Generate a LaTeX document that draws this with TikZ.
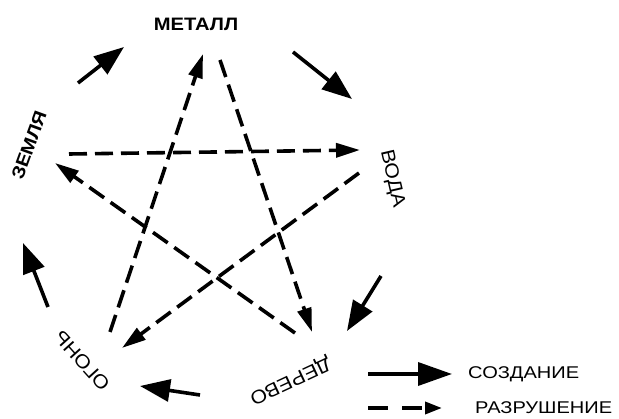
\documentclass[tikz,border=0pt]{standalone}
\usepackage{fontspec}
\setmainfont{Liberation Sans}
\newfontfamily\widefont[FakeStretch=1.12]{Liberation Sans}
\newfontfamily\legendfont[FakeStretch=1.18]{Liberation Sans}
\usetikzlibrary{arrows.meta}
\begin{document}
\begin{tikzpicture}[x=1pt,y=-1pt,
  lbl/.style={font=\widefont\fontsize{19}{19}\selectfont, inner sep=0pt},
  leg/.style={font=\legendfont\fontsize{17}{17}\selectfont, inner sep=0pt, anchor=west},
  create/.style={line width=3.6pt, -{Triangle[length=30pt,width=22pt]}},
  destroy/.style={line width=3.6pt, dash pattern=on 18pt off 8pt, -{Triangle[length=24pt,width=14pt]}}]
\useasboundingbox (0,0) rectangle (619,419);
% labels
\node[lbl, font=\widefont\bfseries\fontsize{18}{18}\selectfont] (metal) at (196,24) {МЕТАЛЛ};
\node[lbl, font=\widefont\bfseries\fontsize{18}{18}\selectfont, rotate=70] (earth) at (29,145) {ЗЕМЛЯ};
\node[lbl, rotate=-77] (water) at (392,179) {ВОДА};
\node[lbl, rotate=132] (fire) at (82,361) {ОГОНЬ};
\node[lbl, rotate=205] (wood) at (290,380) {ДЕРЕВО};
% creation cycle
\coordinate (c1s) at (78,83);   \coordinate (c1e) at (124,47);
\coordinate (c2s) at (293,52);  \coordinate (c2e) at (352,99);
\coordinate (c3s) at (381,276); \coordinate (c3e) at (347,331);
\coordinate (c4s) at (200,395); \coordinate (c4e) at (140,386);
\coordinate (c5s) at (48,307);  \coordinate (c5e) at (23,243);
\draw[create] (c1s) -- (c1e);
\draw[create] (c2s) -- (c2e);
\draw[create] (c3s) -- (c3e);
\draw[create] (c4s) -- (c4e);
\draw[create] (c5s) -- (c5e);
% destruction star
\coordinate (d1s) at (69,154);  \coordinate (d1e) at (360,150);
\coordinate (d2s) at (359,173); \coordinate (d2e) at (122,348);
\coordinate (d3s) at (110,332); \coordinate (d3e) at (203,54);
\coordinate (d4s) at (220,60);  \coordinate (d4e) at (312,332);
\coordinate (d5s) at (295,333); \coordinate (d5e) at (55,163);
\draw[destroy] (d1s) -- (d1e);
\draw[destroy] (d2s) -- (d2e);
\draw[destroy] (d3s) -- (d3e);
\draw[destroy] (d4s) -- (d4e);
\draw[destroy] (d5s) -- (d5e);
% legend
\coordinate (l1s) at (368,374); \coordinate (l1e) at (452,374);
\coordinate (l2s) at (368,408); \coordinate (l2e) at (442,408);
\draw[create, -{Triangle[length=34pt,width=23pt]}] (l1s) -- (l1e);
\draw[destroy, dash pattern=on 20pt off 14pt, -{Triangle[length=17pt,width=12pt]}] (l2s) -- (l2e);
\node[leg] (tcreate) at (468,374) {СОЗДАНИЕ};
\node[leg] (tdestroy) at (475,408) {РАЗРУШЕНИЕ};
\end{tikzpicture}
\end{document}
